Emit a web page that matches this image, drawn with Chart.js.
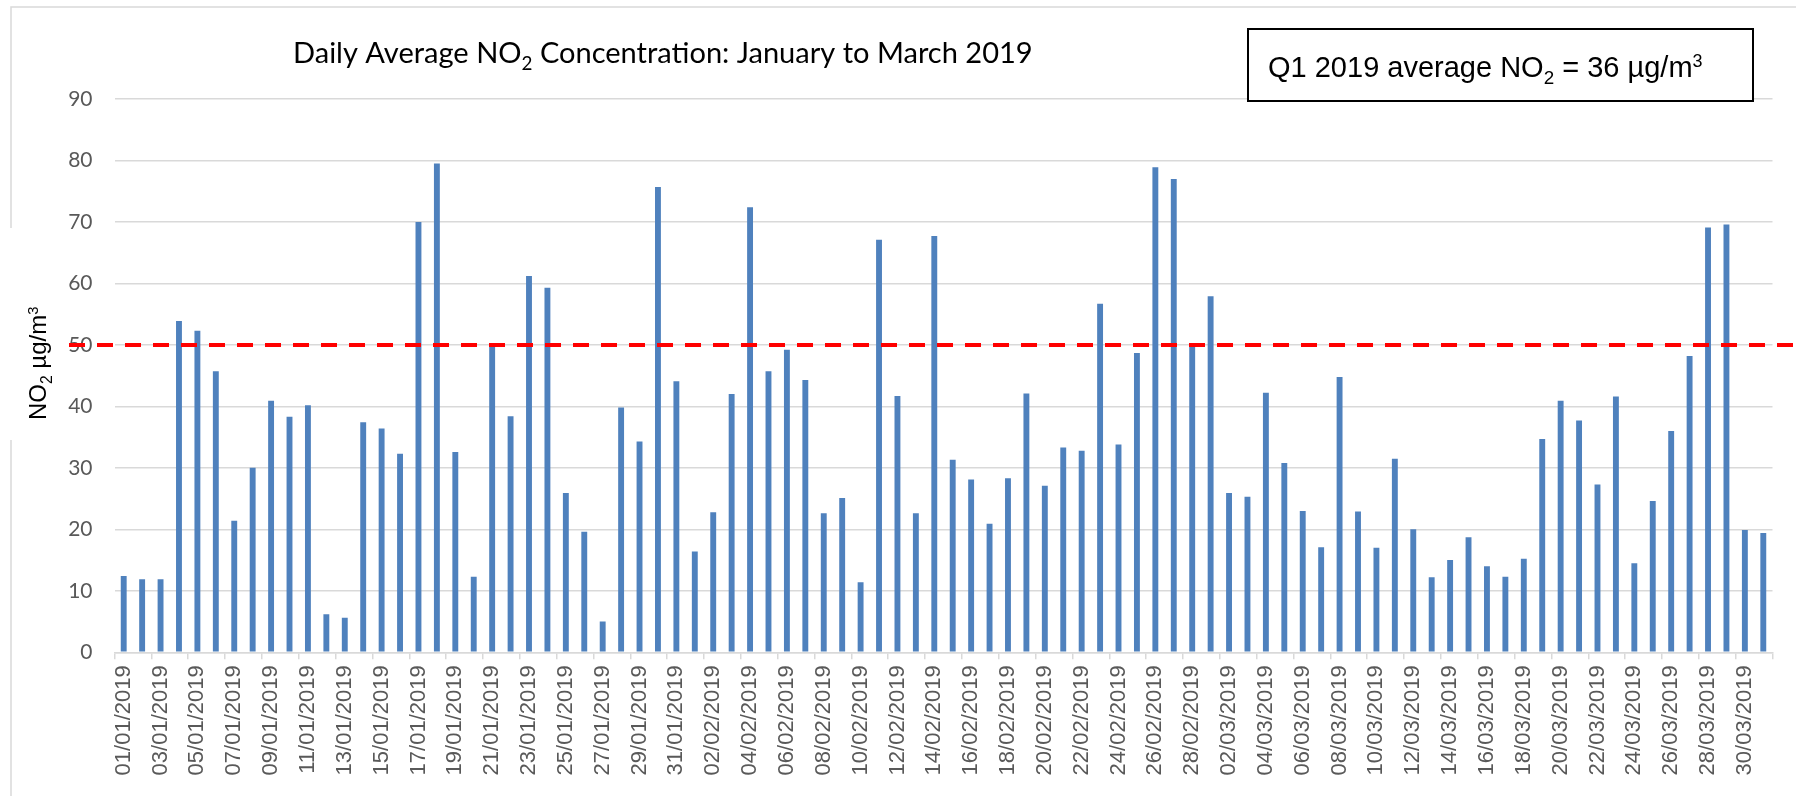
<!DOCTYPE html>
<html>
<head>
<meta charset="utf-8">
<title>Daily Average NO2 Concentration: January to March 2019</title>
<script src="https://cdn.jsdelivr.net/npm/chart.js@4.4.0/dist/chart.umd.min.js"></script>
<style>
  body { margin: 0; background: #fff; }
  canvas { display: block; }
</style>
</head>
<body>
<canvas id="myChart" width="1796" height="796"></canvas>
<script>
'use strict'

//Months on the axis and number of days in each
const monthNums = ['01', '02', '03'];
const monthDays = [31, 28, 31];
const year = '2019';

//Daily average NO2 in ug/m3
const janValues = [12.4, 11.9, 11.9, 53.9, 52.3, 45.7, 21.4, 30.0, 40.9, 38.3,
                   40.2, 6.2, 5.6, 37.4, 36.4, 32.3, 70.0, 79.5, 32.6, 12.3,
                   49.7, 38.4, 61.2, 59.3, 25.9, 19.6, 5.0, 39.8, 34.3, 75.7, 44.1];
const febValues = [16.4, 22.8, 42.0, 72.4, 45.7, 49.2, 44.3, 22.6, 25.1, 11.4,
                   67.1, 41.7, 22.6, 67.7, 31.3, 28.1, 20.9, 28.3, 42.1, 27.1,
                   33.3, 32.8, 56.7, 33.8, 48.7, 78.9, 77.0, 50.3];
const marValues = [57.9, 25.9, 25.3, 42.2, 30.8, 23.0, 17.1, 44.8, 22.9, 17.0,
                   31.5, 20.0, 12.2, 15.0, 18.7, 14.0, 12.3, 15.2, 34.7, 40.9,
                   37.7, 27.3, 41.6, 14.5, 24.6, 36.0, 48.2, 69.1, 69.6, 19.9, 19.4];

//Y axis tick values
const yTicks = [0, 10, 20, 30, 40, 50, 60, 70, 80, 90];

//Limit line and the quarter average in the box
const limitValue = 50;
const q1Average = 36;

//Build the date labels dd/mm/yyyy
let dayLabels = [];
monthNums.forEach((m, mi) => {
    for (let d = 1; d <= monthDays[mi]; d++) {
        dayLabels.push(String(d).padStart(2, '0') + '/' + m + '/' + year);
    }
});
const allValues = janValues.concat(febValues, marValues);

//Draws text with sub / superscript pieces, returns end x
function drawParts(c, parts, x, y, size, family, color, measureOnly) {
    c.fillStyle = color;
    c.textAlign = 'left';
    c.textBaseline = 'alphabetic';
    parts.forEach(p => {
        let s = size, dy = 0;
        if (p.sub) { s = size * 0.65; dy = size * 0.25; }
        if (p.sup) { s = size * 0.62; dy = -size * 0.33; }
        c.font = s + 'px ' + family;
        if (!measureOnly) c.fillText(p.text, x, y + dy);
        x += c.measureText(p.text).width;
    });
    return x;
}

const titleParts = [{text: 'Daily Average NO'}, {text: '2', sub: true}, {text: ' Concentration: January to March 2019'}];
const boxParts = [{text: 'Q1 2019 average NO'}, {text: '2', sub: true}, {text: ' = ' + q1Average + ' \u00b5g/m'}, {text: '3', sup: true}];
const yTitleParts = [{text: 'NO'}, {text: '2', sub: true}, {text: ' \u00b5g/m'}, {text: '3', sup: true}];

//Extra drawing: frame, title, y title, annotation box, limit line
const extras = {
    id: 'extras',
    beforeDraw(chart) {
        const c = chart.ctx;
        c.save();
        c.fillStyle = '#ffffff';
        c.fillRect(0, 0, chart.width, chart.height);
        c.strokeStyle = '#d9d9d9';
        c.lineWidth = 1.5;
        c.beginPath();
        c.moveTo(chart.width, 7);
        c.lineTo(11, 7);
        c.lineTo(11, 228);
        c.moveTo(11, 440);
        c.lineTo(11, chart.height);
        c.stroke();
        c.restore();
    },
    afterDraw(chart) {
        const c = chart.ctx;
        c.save();

        //title, fitted to the width in the original
        const tFam = 'Lato, "Open Sans", sans-serif';
        const w100 = drawParts(c, titleParts, 0, 0, 100, tFam, '#000', true);
        const tSize = 100 * 740 / w100;
        drawParts(c, titleParts, 293, 63, tSize, tFam, '#000000');

        //y axis title
        c.save();
        c.translate(46, 420);
        c.rotate(-Math.PI / 2);
        drawParts(c, yTitleParts, 0, 0, 24, '"Liberation Sans", Arial, sans-serif', '#000000');
        c.restore();

        //limit line
        const yPix = chart.scales.y.getPixelForValue(limitValue);
        c.strokeStyle = '#ff0000';
        c.lineWidth = 4;
        c.setLineDash([16, 12]);
        c.beginPath();
        c.moveTo(69, yPix);
        c.lineTo(chart.width, yPix);
        c.stroke();
        c.setLineDash([]);

        //annotation box
        c.fillStyle = '#ffffff';
        c.fillRect(1248, 29, 505, 72);
        c.strokeStyle = '#000000';
        c.lineWidth = 2;
        c.strokeRect(1248, 29, 505, 72);
        drawParts(c, boxParts, 1268, 77, 29, '"Liberation Sans", Arial, sans-serif', '#000000');

        c.restore();
    }
};

const ctx = document.getElementById('myChart').getContext('2d');
const myChart = new Chart(ctx, {
    type: 'bar',
    data: {
        labels: dayLabels,
        datasets: [{
            label: 'NO2',
            data: allValues,
            backgroundColor: '#4f81bd',
            borderWidth: 0,
            barPercentage: 0.32,
            categoryPercentage: 1
        }]
    },
    plugins: [extras],
    options: {
        responsive: false,
        animation: false,
        devicePixelRatio: 1,
        layout: {
            padding: { top: 99, right: 23.5, left: 0, bottom: 0 }
        },
        plugins: {
            legend: { display: false },
            title: { display: false },
            tooltip: { enabled: false }
        },
        scales: {
            x: {
                offset: true,
                grid: {
                    offset: true,
                    drawOnChartArea: false,
                    drawTicks: true,
                    tickLength: 7,
                    lineWidth: 1.5,
                    tickColor: (c) => (c.index === undefined || c.index % 2 === 0) ? '#d9d9d9' : 'rgba(0,0,0,0)'
                },
                border: { display: true, color: '#d9d9d9', width: 1.5 },
                ticks: {
                    autoSkip: false,
                    minRotation: 90,
                    maxRotation: 90,
                    padding: 6,
                    color: '#595959',
                    font: { family: '"Liberation Sans", Arial, sans-serif', size: 22 },
                    callback: function (v, i) {
                        return i % 2 === 0 ? this.getLabelForValue(v) : '';
                    }
                },
                afterFit: (s) => { s.height = 143.7; }
            },
            y: {
                min: yTicks[0],
                max: yTicks[yTicks.length - 1],
                ticks: {
                    stepSize: yTicks[1] - yTicks[0],
                    padding: 22,
                    color: '#595959',
                    font: { family: 'Lato, sans-serif', size: 21 }
                },
                grid: { color: '#d9d9d9', lineWidth: 1.5, drawTicks: false },
                border: { display: false },
                afterFit: (s) => { s.width = 114.5; }
            }
        }
    }
});
</script>
</body>
</html>
